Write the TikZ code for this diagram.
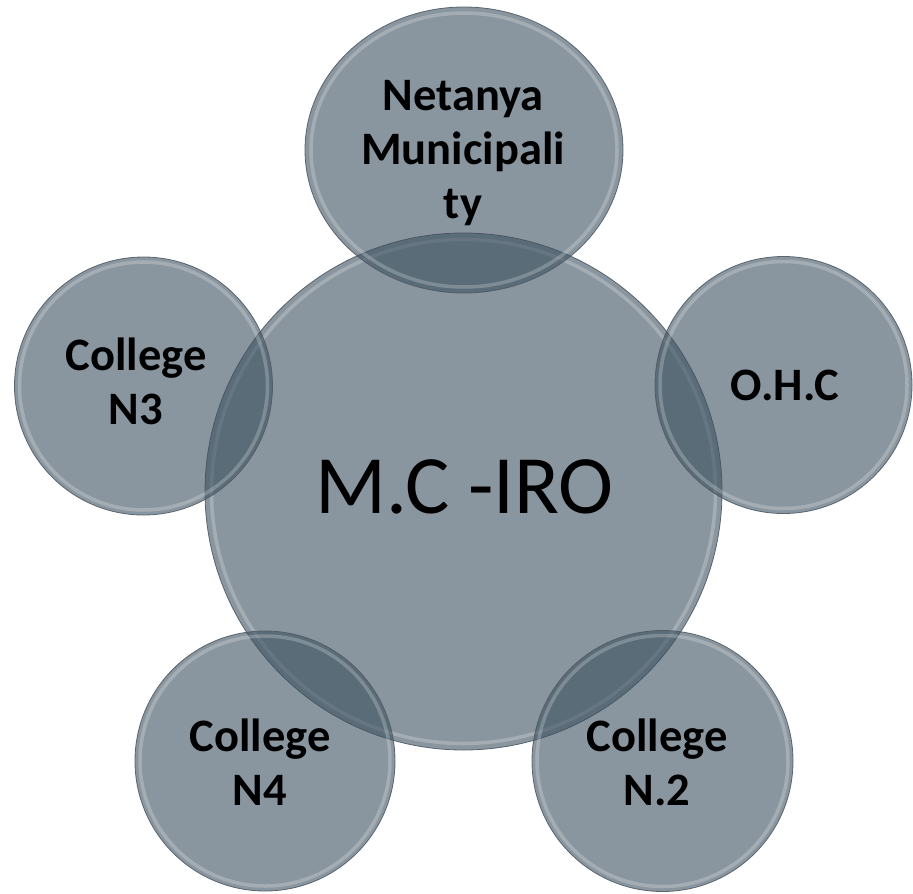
\documentclass[tikz,border=0pt]{standalone}
\usepackage{fontspec}
\setmainfont{Carlito}
\usetikzlibrary{shapes.geometric}
\definecolor{bubfill}{RGB}{60,80,95}
\definecolor{bubedge}{RGB}{80,90,100}
\begin{document}
\begin{tikzpicture}[x=1pt,y=-1pt,
  bubble/.style={ellipse, inner sep=0pt, fill=bubfill, fill opacity=0.6, draw=bubedge, draw opacity=0.9, line width=0.8pt},
  ring/.style={draw=white, draw opacity=0.22, line width=3.5pt},
  lab/.style={font=\fontsize{46.5}{54}\selectfont\bfseries, align=center, text=black, inner sep=0pt},
  mainlab/.style={font=\fontsize{83}{98}\selectfont, text=black, inner sep=0pt}]
\useasboundingbox (0,0) rectangle (913,894);
% central bubble
\node[bubble, minimum width=517pt, minimum height=517pt] (C) at (463.5,491.5) {};
\draw[ring] (C.center) circle[radius=252];
% satellites
\node[bubble, minimum width=318pt, minimum height=286pt] (T) at (464,150) {};
\draw[ring] (T.center) ellipse[x radius=153, y radius=137];
\node[bubble, minimum width=258pt, minimum height=258pt] (L) at (143.5,386) {};
\draw[ring] (L.center) circle[radius=124];
\node[bubble, minimum width=257pt, minimum height=257pt] (R) at (783.5,385) {};
\draw[ring] (R.center) circle[radius=123.5];
\node[bubble, minimum width=260pt, minimum height=260pt] (BL) at (265,761) {};
\draw[ring] (BL.center) circle[radius=125];
\node[bubble, minimum width=261pt, minimum height=261pt] (BR) at (662.5,761) {};
\draw[ring] (BR.center) circle[radius=125.5];
% labels
\node[mainlab] (Ct) at (464.5,487) {M.C -IRO};
\node[lab] (Tt) at (463,153) {Netanya\\Municipali\\ty};
\node[lab] (Lt) at (136,381) {College\\N3};
\node[lab] (Rt) at (785,385) {O.H.C};
\node[lab] (BLt) at (260,762) {College\\N4};
\node[lab] (BRt) at (657,762) {College\\N.2};
\end{tikzpicture}
\end{document}
